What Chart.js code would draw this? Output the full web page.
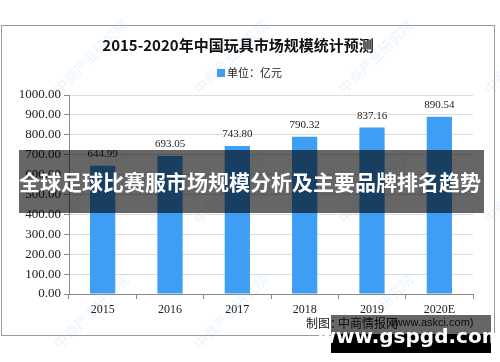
<!DOCTYPE html>
<html>
<head>
<meta charset="utf-8">
<script src="https://cdn.jsdelivr.net/npm/chart.js@4"></script>
<style>
  html, body { margin: 0; padding: 0; background: #fff; }
  #wrap { width: 500px; height: 362px; }
</style>
</head>
<body>
<div id="wrap"><canvas id="myChart" width="500" height="362"></canvas></div>
<script>
// 데이터
var years = ['2015', '2016', '2017', '2018', '2019', '2020E'];
var values = [644.99, 693.05, 743.80, 790.32, 837.16, 890.54];
var yTicks = [0, 100, 200, 300, 400, 500, 600, 700, 800, 900, 1000];

var titleText = '2015-2020年中国玩具市场规模统计预测';
var legendText = '单位：亿元';
var bannerText = '全球足球比赛服市场规模分析及主要品牌排名趋势';

const ctx = document.getElementById('myChart');

// 배경, 프레임, 워터마크, 제목, 범례
const decorBefore = {
  id: 'decorBefore',
  beforeDraw(chart) {
    const c = chart.ctx;
    c.save();
    c.fillStyle = '#fff';
    c.fillRect(0, 0, 500, 362);
    c.strokeStyle = '#9a9a9a';
    c.lineWidth = 1;
    c.strokeRect(1.5, 25.5, 493, 310);

    // 워터마크
    c.font = '14px "Noto Sans CJK SC"';
    c.fillStyle = 'rgba(120,180,230,0.16)';
    const marks = [[60, 95], [200, 95], [345, 95], [490, 95], [60, 225], [200, 225], [345, 225], [490, 225], [60, 350], [200, 350], [345, 350]];
    marks.forEach(function (m) {
      c.save();
      c.translate(m[0], m[1]);
      c.rotate(-Math.PI / 4);
      c.fillText('中商产业研究院', 0, 0);
      c.restore();
    });

    c.fillStyle = '#111';
    c.textAlign = 'center';
    c.textBaseline = 'middle';
    c.font = 'bold 15px "Noto Sans CJK SC"';
    c.fillText(titleText, 238, 45);

    c.fillStyle = '#3d9ef4';
    c.fillRect(217, 69, 8, 8);
    c.fillStyle = '#222';
    c.textAlign = 'left';
    c.font = '11px "Noto Sans CJK SC"';
    c.fillText(legendText, 227, 73);
    c.restore();
  }
};

// 데이터 라벨, 배너, 하단 출처
const decorAfter = {
  id: 'decorAfter',
  afterDatasetsDraw(chart) {
    const c = chart.ctx;
    const meta = chart.getDatasetMeta(0);
    c.save();
    c.fillStyle = '#222';
    c.textAlign = 'center';
    c.textBaseline = 'bottom';
    c.font = '11px "Liberation Serif"';
    meta.data.forEach(function (bar, i) {
      c.fillText(values[i].toFixed(2), bar.x, bar.y - 6);
    });
    c.restore();
  },
  afterDraw(chart) {
    const c = chart.ctx;
    c.save();
    c.fillStyle = '#222';
    c.textBaseline = 'middle';
    c.textAlign = 'left';
    c.font = '12px "Noto Sans CJK SC"';
    c.fillText('制图：', 306, 323);
    c.fillText('中商情报网', 338, 323);
    c.font = '11px "Liberation Sans"';
    c.fillText('(www.askci.com)', 391, 323);

    c.fillStyle = 'rgba(0,0,0,0.6)';
    c.fillRect(19, 150, 465, 63);
    c.fillRect(331, 315, 160, 19);
    c.fillStyle = '#000';
    c.fillRect(331, 334, 160, 19);

    c.fillStyle = '#fff';
    c.textAlign = 'center';
    c.font = 'bold 21px "Noto Sans CJK SC"';
    c.fillText(bannerText, 250, 182);
    c.font = 'bold 20px "DejaVu Sans"';
    c.fillText('www.gspgd.com', 410, 338);
    c.restore();
  }
};

new Chart(ctx, {
  type: 'bar',
  data: {
    labels: years,
    datasets: [{
      label: legendText,
      data: values,
      backgroundColor: '#3d9ef4',
      borderWidth: 0,
      categoryPercentage: 0.75,
      barPercentage: 0.5
    }]
  },
  plugins: [decorBefore, decorAfter],
  options: {
    responsive: false,
    animation: false,
    layout: { padding: { left: 0, right: 27, top: 95, bottom: 0 } },
    plugins: {
      legend: { display: false },
      title: { display: false },
      tooltip: { enabled: false }
    },
    scales: {
      x: {
        offset: true,
        afterFit(scale) { scale.height = 68; },
        grid: { offset: true, drawOnChartArea: false, tickLength: 5, color: '#8a8a8a' },
        border: { color: '#8a8a8a' },
        ticks: { color: '#222', font: { family: 'Liberation Serif', size: 12 }, padding: 4 }
      },
      y: {
        min: 0,
        max: 1000,
        afterFit(scale) { scale.width = 69; },
        afterBuildTicks(scale) { scale.ticks = yTicks.map(function (v) { return { value: v }; }); },
        grid: { color: '#dcdcdc', tickColor: '#8a8a8a', tickLength: 5 },
        border: { color: '#8a8a8a' },
        ticks: {
          color: '#222',
          font: { family: 'Liberation Serif', size: 13 },
          padding: 3,
          callback: function (v) { return Number(v).toFixed(2); }
        }
      }
    }
  }
});
</script>
</body>
</html>
